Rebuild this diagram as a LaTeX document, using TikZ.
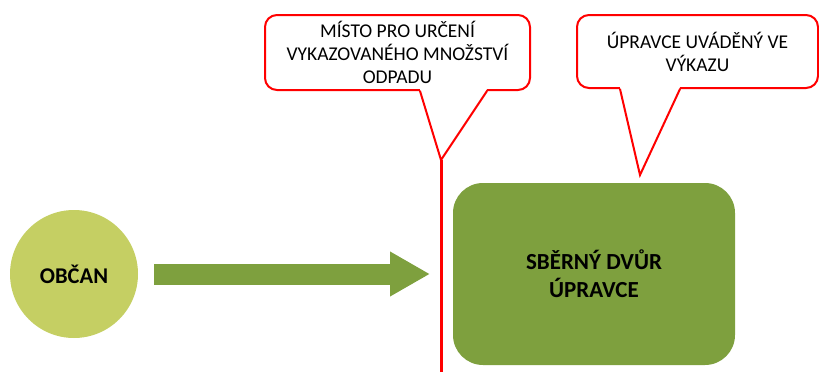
\documentclass[tikz,border=0pt]{standalone}
\usepackage{fontspec}
\setmainfont{Carlito}
\usetikzlibrary{arrows.meta}

\definecolor{citizen}{RGB}{197,207,99}
\definecolor{yard}{RGB}{126,160,62}
\definecolor{mark}{RGB}{255,0,0}

\tikzset{
	calloutbox/.style={draw=mark, line width=2pt, fill=white, rounded corners=12pt, align=center, inner sep=0pt, font=\fontsize{19.5}{23}\selectfont},
	pointer/.style={draw=mark, line width=2pt, line join=miter},
	flow/.style={draw=yard, line width=21pt, -{Triangle[length=40pt,width=42pt]}}
}

\begin{document}
\begin{tikzpicture}[x=1pt,y=-1pt]
	\useasboundingbox (0,0) rectangle (819,372);
	
	\node[shape=circle, fill=citizen, minimum size=128pt, font=\bfseries\fontsize{22.5}{26}\selectfont] (obcan) at (74, 274) {OBČAN};
	\node[shape=rectangle, fill=yard, rounded corners=30pt, minimum width=282pt, minimum height=182pt, align=center, font=\bfseries\fontsize{23}{28}\selectfont] (dvur) at (594, 274) {SBĚRNÝ DVŮR\\ÚPRAVCE};
	
	\node[calloutbox, minimum width=265pt, minimum height=75pt] (misto) at (397.5, 52.5) {MÍSTO PRO URČENÍ\\VYKAZOVANÉHO MNOŽSTVÍ\\ODPADU};
	\node[calloutbox, minimum width=241pt, minimum height=73pt] (upravce) at (697.5, 51.5) {ÚPRAVCE UVÁDĚNÝ VE\\VÝKAZU};
	
	\coordinate (mistotip) at (441, 160);
	\coordinate (upravcetip) at (640, 175);
	\coordinate (limitend) at (441, 372);
	\coordinate (flowend) at (430, 274);
	
	\fill[white] ([xshift=22.5pt,yshift=2pt]misto.south) -- (mistotip) -- ([xshift=89.5pt,yshift=2pt]misto.south) -- cycle;
	\path[pointer] ([xshift=22.5pt]misto.south) -- (mistotip) -- ([xshift=89.5pt]misto.south);
	\fill[white] ([xshift=-77.5pt,yshift=2pt]upravce.south) -- (upravcetip) -- ([xshift=-17.5pt,yshift=2pt]upravce.south) -- cycle;
	\path[pointer] ([xshift=-77.5pt]upravce.south) -- (upravcetip) -- ([xshift=-17.5pt]upravce.south);
	
	\path[draw=mark, line width=3pt] (mistotip) -- (limitend);
	\path[flow] ([xshift=16pt]obcan.east) -- (flowend);
	
\end{tikzpicture}
\end{document}
